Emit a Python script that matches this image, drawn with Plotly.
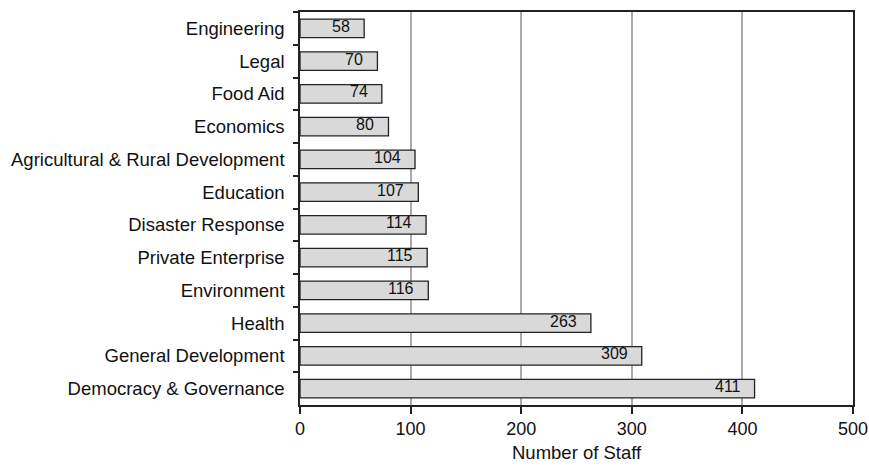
import plotly.graph_objects as go

# Staff counts by sector, listed top to bottom
sectors = [
    "Engineering", "Legal", "Food Aid", "Economics",
    "Agricultural & Rural Development", "Education", "Disaster Response",
    "Private Enterprise", "Environment", "Health",
    "General Development", "Democracy & Governance",
]
staff = [58, 70, 74, 80, 104, 107, 114, 115, 116, 263, 309, 411]
x_ticks = [0, 100, 200, 300, 400, 500]

FONT = "Liberation Sans, Arial, Helvetica, sans-serif"
INK = "#111111"

W, H = 869, 466
ML, MR, MT, MB = 300, 16, 12, 61
plot_h = H - MT - MB

fig = go.Figure(
    go.Bar(
        x=staff,
        y=sectors,
        orientation="h",
        marker=dict(color="#d9d9d9", line=dict(color="#222222", width=1.3)),
        hoverinfo="x+y",
    )
)

# Value labels just inside the end of each bar, sitting a little high
for s, v in zip(sectors, staff):
    fig.add_annotation(
        x=v, y=s, xref="x", yref="y",
        text=str(v), showarrow=False,
        xanchor="right", xshift=-12, yshift=2,
        font=dict(family=FONT, size=16, color=INK),
    )

# Axis title: bottom of its box sits 1px above the page's lower edge
title_bottom_px = H - 1
fig.add_annotation(
    x=0.5, y=-(title_bottom_px - (H - MB)) / plot_h,
    xref="paper", yref="paper",
    text="Number of Staff", showarrow=False,
    xanchor="center", yanchor="bottom",
    font=dict(family=FONT, size=18.5, color=INK),
)

fig.update_layout(
    width=W, height=H,
    margin=dict(l=ML, r=MR, t=MT, b=MB, pad=0),
    paper_bgcolor="white", plot_bgcolor="white",
    bargap=0.44,
    showlegend=False,
    font=dict(family=FONT, size=18, color=INK),
)

fig.update_xaxes(
    range=[0, 500],
    tickvals=x_ticks,
    ticks="outside", ticklen=7, tickwidth=1.5, tickcolor="#222222",
    showline=True, linecolor="#222222", linewidth=1.5, mirror=True,
    showgrid=True, gridcolor="#aaaaaa", gridwidth=1.5,
    zeroline=False,
    automargin=False,
    tickfont=dict(family=FONT, size=18, color=INK),
)
fig.update_yaxes(
    type="category",
    autorange="reversed",
    tickson="boundaries",
    ticks="outside", ticklen=5, tickwidth=1.5, tickcolor="#222222",
    showline=True, linecolor="#222222", linewidth=1.5, mirror=True,
    showgrid=False,
    automargin=False,
    ticklabelstandoff=10,
    tickfont=dict(family=FONT, size=18.5, color=INK),
)

fig.write_html("out.html")
